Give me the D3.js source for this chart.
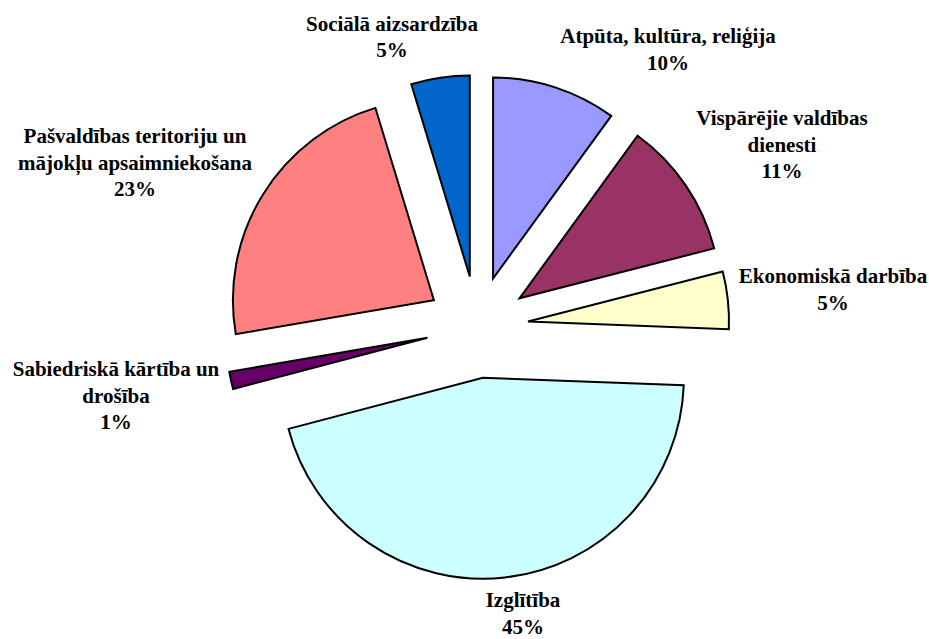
<!DOCTYPE html>
<html>
<head>
<meta charset="utf-8">
<script src="https://cdn.jsdelivr.net/npm/d3@7"></script>
<style>
  html, body { margin: 0; padding: 0; background: #fff; }
  svg { display: block; }
  .lbl { font-family: "Liberation Serif", Tinos, "Times New Roman", Times, "DejaVu Serif", serif; font-weight: bold; font-size: 21px; fill: #000; }
</style>
</head>
<body>
<svg id="chart"></svg>
<script>
const width = 929;
const height = 639;

// categories, clockwise from 12 o'clock ("\n" = line break in the label)
const categories = [
    "Atpūta, kultūra, reliģija",
    "Vispārējie valdības\ndienesti",
    "Ekonomiskā darbība",
    "Izglītība",
    "Sabiedriskā kārtība un\ndrošība",
    "Pašvaldības teritoriju un\nmājokļu apsaimniekošana",
    "Sociālā aizsardzība"
];
// share of expenditure, %
const values = [10.0, 11.0, 4.6, 45.3, 1.4, 23.0, 4.7];
const colors = ["#9999FF", "#993366", "#FFFFCC", "#CCFFFF", "#660066", "#FF8080", "#0066CC"];

// layout
const cx = 477.3, cy = 327;
const radius = 201;
const explode = 51;
const lineH = 26.7;
// label blocks: centre x, first baseline
const labelPos = [
    [668, 43], [782, 125], [833, 283], [523, 607],
    [116, 376], [135, 143], [392, 30.5]
];

const svg = d3.select("#chart")
    .attr("width", width)
    .attr("height", height);

svg.append("rect")
    .attr("width", width)
    .attr("height", height)
    .attr("fill", "#fff");

const pie = d3.pie().sort(null).value(d => d.value);

const arc = d3.arc()
    .innerRadius(0)
    .outerRadius(radius);

const data = categories.map((c, i) => ({ name: c, value: values[i], color: colors[i] }));
const arcs = pie(data);

const g = svg.append("g")
    .attr("transform", `translate(${cx},${cy})`);

g.selectAll("path")
    .data(arcs)
    .enter().append("path")
    .attr("d", arc)
    .attr("transform", d => {
        const a = (d.startAngle + d.endAngle) / 2;
        return `translate(${explode * Math.sin(a)},${-explode * Math.cos(a)})`;
    })
    .style("fill", d => d.data.color)
    .style("stroke", "#000")
    .style("stroke-width", 2)
    .style("stroke-linejoin", "miter");

const labels = svg.selectAll("text.lbl")
    .data(arcs)
    .enter().append("text")
    .attr("class", "lbl")
    .attr("text-anchor", "middle");

labels.each(function (d, i) {
    const lines = d.data.name.split("\n").concat([Math.round(d.data.value) + "%"]);
    const t = d3.select(this);
    lines.forEach((s, k) => {
        t.append("tspan")
            .attr("x", labelPos[i][0])
            .attr("y", labelPos[i][1] + k * lineH)
            .text(s);
    });
});
</script>
</body>
</html>
